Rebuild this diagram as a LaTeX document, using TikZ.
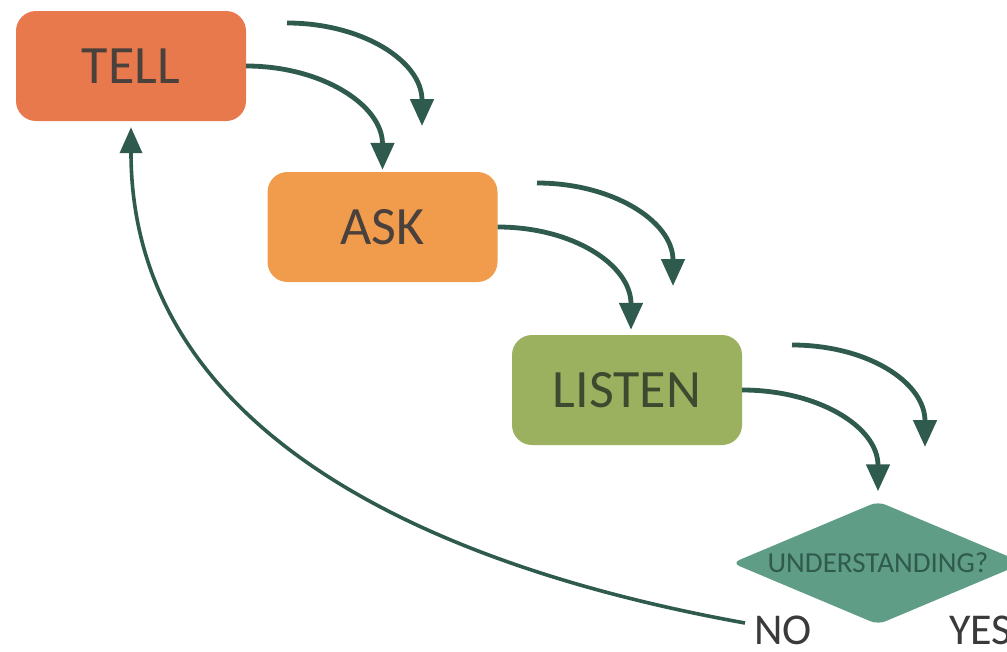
\documentclass[tikz,border=0pt]{standalone}
\usepackage{fontspec}
\setmainfont{Carlito}
\usetikzlibrary{arrows.meta,shapes.geometric}
\definecolor{tellfill}{HTML}{E8794C}
\definecolor{askfill}{HTML}{F19B4C}
\definecolor{listenfill}{HTML}{9CB15F}
\definecolor{decfill}{HTML}{5F9D87}
\definecolor{arrowcol}{HTML}{2F5A4E}
\definecolor{warmtext}{HTML}{4A403C}
\definecolor{greentext}{HTML}{3D4A30}
\definecolor{dectext}{HTML}{2F5A4C}
\definecolor{answertext}{HTML}{3A3A3A}
\begin{document}
\begin{tikzpicture}[x=1pt,y=-1pt,
  stage/.style={rounded corners=20pt, minimum width=230pt, minimum height=110pt,
    inner sep=0pt, font=\fontsize{54}{60}\selectfont, text=warmtext},
  decision/.style={diamond, fill=decfill, rounded corners=8pt, aspect=2.37,
    minimum width=292pt, minimum height=123pt, inner sep=0pt,
    font=\fontsize{29}{33}\selectfont, text=dectext},
  answer/.style={anchor=west, inner sep=1pt, font=\fontsize{44}{50}\selectfont, text=answertext},
  flow/.style={draw=arrowcol, line width=4.8pt, -{Triangle[width=23pt,length=27pt]}},
  loopback/.style={draw=arrowcol, line width=3.6pt, -{Triangle[width=22pt,length=26pt]}}]
\useasboundingbox (0,0) rectangle (1007,651);

% the three stages
\node[stage, fill=tellfill] (tell) at (131,66) {TELL};
\node[stage, fill=askfill] (ask) at (382.5,227) {ASK};
\node[stage, fill=listenfill, text=greentext] (listen) at (627,390) {LISTEN};

% the check and its two outcomes
\node[decision] (dec) at (878,563) {UNDERSTANDING?};
\node[answer] (no) at (753,630) {NO};
\node[answer] (yes) at (948,630) {YES};

% stage-to-stage connectors
\draw[flow] (tell.east) .. controls +(75,0) and +(0,-65) .. ([yshift=2pt]ask.north);
\draw[flow] (ask.east) .. controls +(75,0) and +(0,-65) .. ([xshift=4pt,yshift=5pt]listen.north);
\draw[flow] (listen.east) .. controls +(75,0) and +(0,-65) .. ([yshift=10pt]dec.north);

% free-standing arrows beside each connector
\coordinate (f1s) at (287,23);  \coordinate (f1e) at (422,126);
\coordinate (f2s) at (537,183); \coordinate (f2e) at (673,286);
\coordinate (f3s) at (792,345); \coordinate (f3e) at (925,447);
\draw[flow] (f1s) .. controls +(75,0) and +(0,-65) .. (f1e);
\draw[flow] (f2s) .. controls +(75,0) and +(0,-65) .. (f2e);
\draw[flow] (f3s) .. controls +(75,0) and +(0,-65) .. (f3e);

% loop back from NO to TELL
\draw[loopback] ([xshift=-8pt,yshift=7pt]no.west) .. controls +(-343,-62) and +(0,291) .. ([yshift=-6pt]tell.south);
\end{tikzpicture}
\end{document}
